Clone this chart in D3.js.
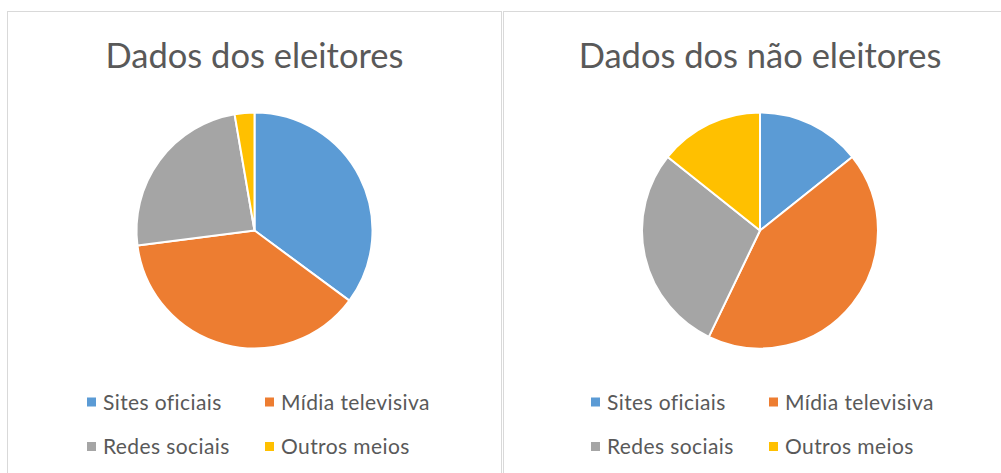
<!DOCTYPE html>
<html>
<head>
<meta charset="utf-8">
<script src="https://cdn.jsdelivr.net/npm/d3@7"></script>
<style>
  html, body { margin: 0; padding: 0; background: #fff; }
  svg { display: block; }
  text { font-family: Lato, "Open Sans", sans-serif; fill: #595959; }
</style>
</head>
<body>
<svg id="chart" width="1001" height="473"></svg>
<script>
// ---- data ----
const categories = ["Sites oficiais", "Mídia televisiva", "Redes sociais", "Outros meios"];
const chartTitles = ["Dados dos eleitores", "Dados dos não eleitores"];
const eleitoresValues = [13, 14, 9, 1];
const naoEleitoresValues = [1, 3, 2, 1];
const seriesColors = ["#5B9BD5", "#ED7D31", "#A5A5A5", "#FFC000"];

// ---- layout ----
const svg = d3.select("#chart");
const panels = [
  { title: chartTitles[0], values: eleitoresValues, box: [7.5, 11.5, 494, 480], cx: 254.5, cy: 230.5, legendX: 87 },
  { title: chartTitles[1], values: naoEleitoresValues, box: [503.5, 11.5, 520, 480], cx: 760, cy: 230.5, legendX: 591 }
];
const radius = 118;
const color = d3.scaleOrdinal().domain(categories).range(seriesColors);
const pie = d3.pie().sort(null).value(d => d.value);
const arc = d3.arc().innerRadius(0).outerRadius(radius);

panels.forEach(p => {
  const g = svg.append("g");
  g.append("rect")
    .attr("x", p.box[0]).attr("y", p.box[1])
    .attr("width", p.box[2]).attr("height", p.box[3])
    .attr("fill", "#fff").attr("stroke", "#d9d9d9").attr("stroke-width", 1);

  g.append("text")
    .attr("x", p.cx).attr("y", 68)
    .attr("text-anchor", "middle")
    .style("font-size", "34.5px")
    .text(p.title);

  const data = categories.map((c, i) => ({ category: c, value: p.values[i] }));
  const pg = g.append("g").attr("transform", `translate(${p.cx},${p.cy})`);
  pg.selectAll("path")
    .data(pie(data))
    .join("path")
    .attr("d", arc)
    .attr("fill", d => color(d.data.category))
    .attr("stroke", "#fff")
    .attr("stroke-width", 2)
    .attr("stroke-linejoin", "round");

  const colX = d3.scaleOrdinal().domain([0, 1]).range([p.legendX, p.legendX + 178]);
  const rowY = d3.scaleOrdinal().domain([0, 1]).range([409.5, 454]);
  const lg = g.append("g");
  const items = lg.selectAll("g.item")
    .data(categories)
    .join("g")
    .attr("class", "item")
    .attr("transform", (d, i) => `translate(${colX(i % 2)},${rowY(Math.floor(i / 2))})`);
  items.append("rect")
    .attr("x", 0).attr("y", -12)
    .attr("width", 9).attr("height", 9)
    .attr("fill", d => color(d));
  items.append("text")
    .attr("x", 16).attr("y", 0)
    .style("font-size", "21px")
    .style("letter-spacing", "0.4px")
    .text(d => d);
});
</script>
</body>
</html>
